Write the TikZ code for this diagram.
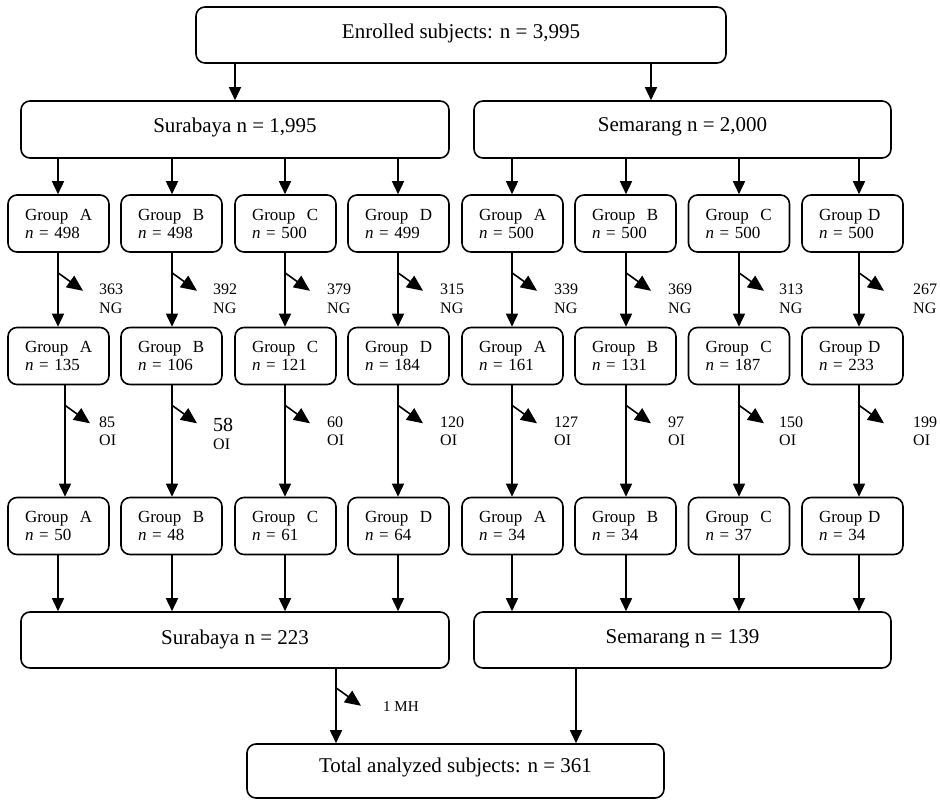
\documentclass[tikz,border=0pt]{standalone}
\usepackage{fontspec}
\setmainfont{Liberation Serif}
\usetikzlibrary{arrows.meta}
\begin{document}
\begin{tikzpicture}[x=1pt,y=-1pt,
  box/.style={draw, line width=1.6pt, rounded corners=9pt, inner sep=0pt},
  grp/.style={box, align=left, text width=67pt, inner xsep=17pt, inner ysep=0pt, minimum height=57pt, font=\fontsize{17}{18}\selectfont},
  big/.style={inner sep=0pt, font=\fontsize{21}{24}\selectfont},
  arr/.style={line width=1.6pt, -{Triangle[length=13pt,width=12pt]}},
  side/.style={line width=1.6pt, -{Triangle[length=16pt,width=14pt]}},
  lbl/.style={anchor=base west, inner sep=0pt, font=\fontsize{16}{18}\selectfont}
]
\useasboundingbox (0,0) rectangle (940,800);

% main boxes
\node[box, minimum width=530pt, minimum height=56pt] (top) at (461,35) {};
\node[big] (toptxt) at (461,33) {Enrolled subjects: n = 3,995};
\node[box, minimum width=428pt, minimum height=57pt] (sur) at (235,129.5) {};
\node[big] (surtxt) at (235,127) {Surabaya n = 1,995};
\node[box, minimum width=417pt, minimum height=57pt] (sem) at (682.5,129.5) {};
\node[big] (semtxt) at (682.5,127) {Semarang n = 2,000};
\node[box, minimum width=428pt, minimum height=56pt] (surb) at (235,640) {};
\node[big] (surbtxt) at (235,639) {Surabaya n = 223};
\node[box, minimum width=417pt, minimum height=56pt] (semb) at (682.5,640) {};
\node[big] (sembtxt) at (682.5,639) {Semarang n = 139};
\node[box, minimum width=417pt, minimum height=54pt] (tot) at (455.5,771) {};
\node[big] (tottxt) at (455.5,767) {Total analyzed subjects: n = 361};

\draw[arr] (top.south -| sur.north) -- (sur.north);
\draw[arr] ([xshift=190pt]top.south) -- ([xshift=-31.5pt]sem.north);

% group columns
\foreach \nm/\cx/\ax/\bx/\gl/\na/\nb/\nc/\vng/\voi/\lx/\fs/\dy/\ct/\cb in {
  sA/58.5/58/65/{Group~~A}/498/135/50/363/85/99/16/0/sur/surb,
  sB/171.5/172/172/{Group~~B}/498/106/48/392/58/213/20/4/sur/surb,
  sC/285.5/285/285/{Group~~C}/500/121/61/379/60/327/16/0/sur/surb,
  sD/398.5/398/398/{Group~~D}/499/184/64/315/120/440/16/0/sur/surb,
  mA/512.5/512/512/{Group~~A}/500/161/34/339/127/554/16/0/sem/semb,
  mB/625.5/626/626/{Group~~B}/500/131/34/369/97/668/16/0/sem/semb,
  mC/739/739/739/{Group~~C}/500/187/37/313/150/779/16/0/sem/semb,
  mD/852.5/859/859/{Group~D}/500/233/34/267/199/913/16/0/sem/semb}{
  \pgfmathsetmacro\dxa{\ax-\cx}
  \pgfmathsetmacro\dxb{\bx-\cx}
  \node[grp] (\nm1) at (\cx,223.5) {\gl\\\textit{n} = \na};
  \node[grp] (\nm2) at (\cx,356) {\gl\\\textit{n} = \nb};
  \node[grp] (\nm3) at (\cx,526) {\gl\\\textit{n} = \nc};
  \coordinate (\nm i1) at ([xshift=\dxa pt]\nm1.north);
  \coordinate (\nm o1) at ([xshift=\dxa pt]\nm1.south);
  \coordinate (\nm i2) at ([xshift=\dxa pt]\nm2.north);
  \coordinate (\nm o2) at ([xshift=\dxb pt]\nm2.south);
  \coordinate (\nm i3) at ([xshift=\dxb pt]\nm3.north);
  \coordinate (\nm o3) at ([xshift=\dxa pt]\nm3.south);
  \draw[arr] (\ct.south -| \nm i1) -- (\nm i1);
  \draw[arr] (\nm o1) -- (\nm i2);
  \draw[arr] (\nm o2) -- (\nm i3);
  \draw[arr] (\nm o3) -- (\nm o3 |- \cb.north);
  % side arrows
  \coordinate (\nm p1) at ([yshift=-20pt]\nm o1);
  \coordinate (\nm q1) at ([xshift=25pt,yshift=-38pt]\nm o1);
  \draw[side] (\nm p1) -- (\nm q1);
  \coordinate (\nm p2) at ([yshift=-20pt]\nm o2);
  \coordinate (\nm q2) at ([xshift=25pt,yshift=-38pt]\nm o2);
  \draw[side] (\nm p2) -- (\nm q2);
  \node[lbl] (\nm n1) at (\lx,294.5) {\vng};
  \node[lbl] (\nm w1) at (\lx,313.5) {NG};
  \node[lbl, font={\fontsize{\fs}{\fs}\selectfont}] (\nm n2) at ({\lx},{427.5+\dy}) {\voi};
  \node[lbl] (\nm w2) at ({\lx},{445.5+\dy}) {OI};
}

% to total
\coordinate (so) at ([xshift=101pt]surb.south);
\coordinate (mo) at ([xshift=-106.5pt]semb.south);
\draw[arr] (so) -- (so |- tot.north);
\draw[arr] (mo) -- (mo |- tot.north);
\coordinate (sp) at ([yshift=-19pt]so);
\coordinate (sq) at ([xshift=25pt,yshift=-37pt]so);
\draw[side] (sp) -- (sq);
\node[lbl, font=\fontsize{15}{17}\selectfont] (mh) at (383,711) {1 MH};
\end{tikzpicture}
\end{document}
